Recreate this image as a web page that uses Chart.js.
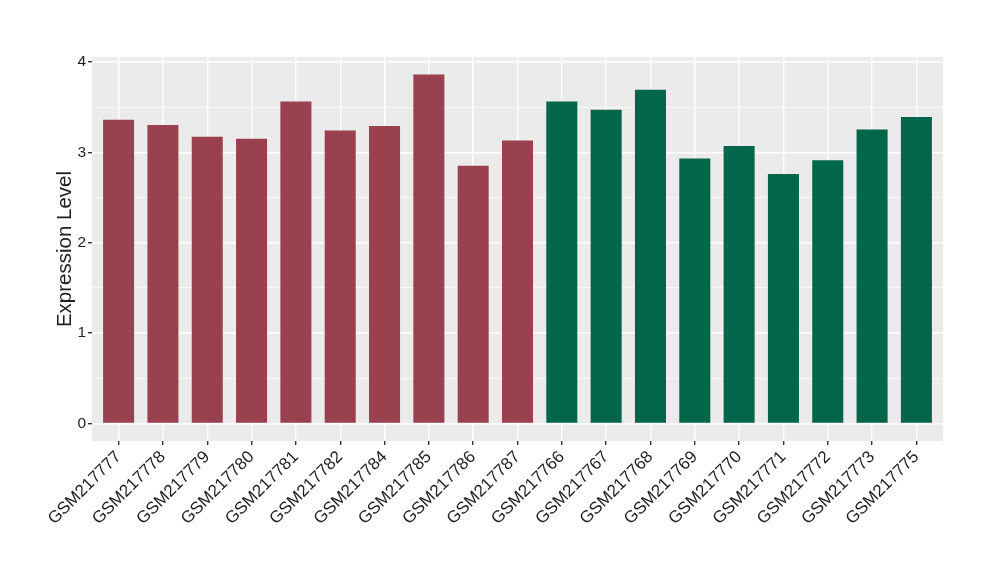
<!DOCTYPE html>
<html>
<head>
<meta charset="utf-8">
<script src="https://cdn.jsdelivr.net/npm/chart.js@4/dist/chart.umd.min.js"></script>
<style>
  html, body { margin: 0; padding: 0; background: #fff; }
  #wrap { width: 1000px; height: 580px; }
</style>
</head>
<body>
<div id="wrap"><canvas id="myChart" width="1000" height="580"></canvas></div>
<script>
// data
const samples = ['GSM217777', 'GSM217778', 'GSM217779', 'GSM217780', 'GSM217781', 'GSM217782', 'GSM217784', 'GSM217785', 'GSM217786', 'GSM217787',
  'GSM217766', 'GSM217767', 'GSM217768', 'GSM217769', 'GSM217770', 'GSM217771', 'GSM217772', 'GSM217773', 'GSM217775'];
const expression = [3.36, 3.30, 3.17, 3.15, 3.56, 3.24, 3.29, 3.86, 2.85, 3.13,
  3.56, 3.47, 3.69, 2.93, 3.07, 2.76, 2.91, 3.25, 3.39];
const groups = ['a', 'a', 'a', 'a', 'a', 'a', 'a', 'a', 'a', 'a',
  'b', 'b', 'b', 'b', 'b', 'b', 'b', 'b', 'b'];
const yTicks = [0, 1, 2, 3, 4];

const groupColors = { a: '#9A4150', b: '#02664A' };
const textColor = '#1f1f1f';

// grey panel like ggplot
const panelBg = {
  id: 'panelBg',
  beforeDraw: (chart) => {
    const { ctx, chartArea } = chart;
    ctx.save();
    ctx.fillStyle = '#EBEBEB';
    ctx.fillRect(chartArea.left, chartArea.top, chartArea.right - chartArea.left, chartArea.bottom - chartArea.top);
    ctx.restore();
  }
};

const points = samples.map((s, i) => ({ x: i + 1, y: expression[i] }));

const config = {
  type: 'bar',
  data: {
    datasets: [{
      data: points,
      backgroundColor: groups.map(g => groupColors[g]),
      borderWidth: 0,
      barPercentage: 0.7,
      categoryPercentage: 1
    }]
  },
  options: {
    responsive: false,
    animation: false,
    layout: { padding: { top: 57, right: 57, left: 0, bottom: 0 } },
    plugins: {
      legend: { display: false },
      tooltip: { enabled: false }
    },
    scales: {
      x: {
        type: 'linear',
        min: 0.4,
        max: 19.6,
        offset: false,
        border: { display: false },
        grid: {
          offset: false,
          color: '#ffffff',
          lineWidth: 1.4,
          tickLength: 4,
          tickColor: '#333333'
        },
        ticks: {
          stepSize: 1,
          includeBounds: false,
          autoSkip: false,
          minRotation: 45,
          maxRotation: 45,
          padding: 2,
          color: textColor,
          font: { family: 'Liberation Sans', size: 17 },
          callback: (v) => Number.isInteger(v) ? samples[v - 1] : ''
        },
        afterFit: (scale) => { scale.height = 139; }
      },
      y: {
        min: -0.193,
        max: 4.053,
        border: { display: false },
        grid: {
          color: '#ffffff',
          lineWidth: (c) => Number.isInteger(c.tick.value) ? 1.4 : 0.7,
          tickLength: 4,
          tickColor: (c) => Number.isInteger(c.tick.value) ? '#333333' : 'rgba(0,0,0,0)'
        },
        ticks: {
          stepSize: 0.5,
          includeBounds: false,
          padding: 2,
          color: textColor,
          font: { family: 'Liberation Sans', size: 15.5 },
          callback: (v) => yTicks.includes(v) ? String(v) : ''
        },
        title: {
          display: true,
          text: 'Expression Level',
          color: textColor,
          font: { family: 'Liberation Sans', size: 20.5 },
          padding: { top: 53, bottom: 0 }
        },
        afterFit: (scale) => { scale.width = 92; }
      }
    }
  },
  plugins: [panelBg]
};

var myChart = new Chart(document.getElementById('myChart'), config);
</script>
</body>
</html>
